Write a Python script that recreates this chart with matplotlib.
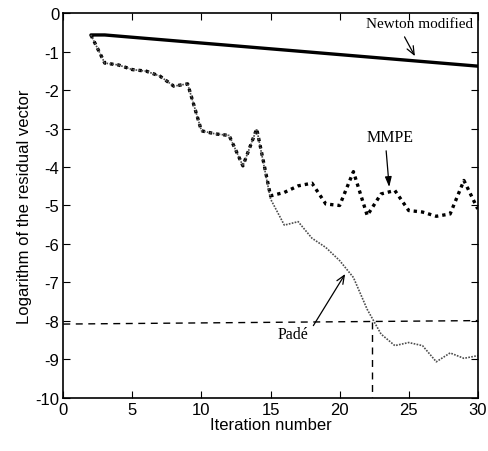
import numpy as np
import matplotlib.pyplot as plt

plt.rcParams['axes.unicode_minus'] = False

# iteration numbers
iters = list(range(2, 31))

# log of residual
newton = [-0.57, -0.57, -0.60, -0.63, -0.66, -0.69, -0.72, -0.75, -0.78, -0.81,
          -0.84, -0.87, -0.90, -0.93, -0.96, -0.99, -1.02, -1.05, -1.08, -1.11,
          -1.14, -1.17, -1.20, -1.23, -1.26, -1.29, -1.32, -1.35, -1.38]
mmpe = [-0.57, -1.30, -1.35, -1.47, -1.51, -1.64, -1.90, -1.84, -3.06, -3.14,
        -3.18, -3.97, -3.01, -4.75, -4.66, -4.49, -4.42, -4.96, -5.00, -4.12,
        -5.26, -4.70, -4.61, -5.13, -5.17, -5.28, -5.22, -4.35, -5.09]
pade = [-0.57, -1.30, -1.35, -1.47, -1.51, -1.64, -1.90, -1.84, -3.06, -3.14,
        -3.18, -3.97, -3.01, -4.83, -5.51, -5.42, -5.85, -6.09, -6.43, -6.87,
        -7.70, -8.34, -8.64, -8.56, -8.64, -9.06, -8.83, -8.97, -8.90]

# tolerance guide lines
h_x = [0, 30]
h_y = [-8.08, -7.99]
v_x = [22.37, 22.37]
v_y = [-8.03, -10]

fig = plt.figure(figsize=(4.88, 4.52), dpi=100)
ax = fig.add_axes([0.1297, 0.1173, 0.8493, 0.8517])

ax.plot(iters, newton, color='black', lw=2.4, solid_capstyle='round')
ax.plot(iters, mmpe, color='black', lw=2.4, linestyle=(0, (1, 1.2)))
ax.plot(iters, pade, color='0.3', lw=1.2, linestyle=(0, (1, 0.8)))
ax.plot(h_x, h_y, color='black', lw=1.0, linestyle=(0, (5, 4)))
ax.plot(v_x, v_y, color='black', lw=1.0, linestyle=(0, (5, 4)))

serif = ['Liberation Serif', 'DejaVu Serif']
arrow = dict(arrowstyle='->,head_length=0.6,head_width=0.25', color='black',
             lw=0.9, shrinkA=0, shrinkB=0)

ax.text(25.8, -0.26, 'Newton modified', ha='center', va='center',
        fontsize=11, family=serif)
ax.annotate('', xy=(25.45, -1.12), xytext=(24.7, -0.62), arrowprops=arrow)

ax.text(23.65, -3.22, 'MMPE', ha='center', va='center', fontsize=11.5, family=serif)
ax.annotate('', xy=(23.59, -4.52), xytext=(23.37, -3.58),
            arrowprops=dict(arrowstyle='-|>,head_length=0.6,head_width=0.2',
                            color='black', lw=0.9, shrinkA=0, shrinkB=0))

ax.text(16.6, -8.33, 'Padé', ha='center', va='center', fontsize=11.5, family=serif)
ax.annotate('', xy=(20.4, -6.78), xytext=(18.1, -8.12), arrowprops=arrow)

ax.set_xlim(0, 30)
ax.set_ylim(-10, 0)
ax.set_xticks([0, 5, 10, 15, 20, 25, 30])
ax.set_yticks(range(-10, 1))
ax.tick_params(direction='in', top=True, right=True, labelsize=12, length=5, pad=3)
for lab in ax.get_xticklabels() + ax.get_yticklabels():
    lab.set_family('Liberation Sans')
for sp in ax.spines.values():
    sp.set_linewidth(1.2)

ax.set_xlabel('Iteration number', fontsize=12, family='Liberation Sans', labelpad=0)
ax.set_ylabel('Logarithm of the residual vector', fontsize=12, family='Liberation Sans', labelpad=2)

fig.savefig('out.png', dpi=100)
